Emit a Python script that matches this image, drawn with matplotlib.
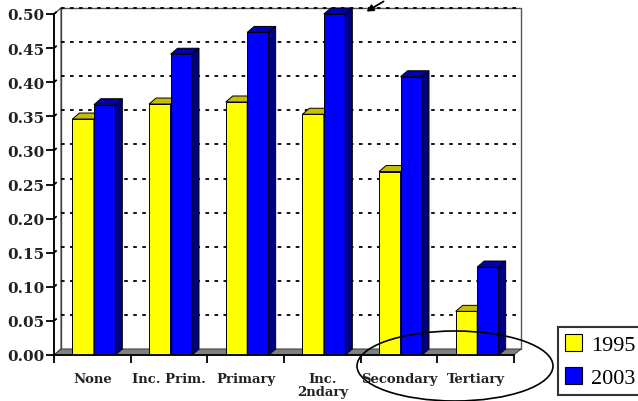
import matplotlib.pyplot as plt
from matplotlib.patches import Polygon, Rectangle, Ellipse, Patch
import numpy as np

categories = ['None', 'Inc. Prim.', 'Primary', 'Inc.\n2ndary', 'Secondary', 'Tertiary']
years = ['1995', '2003']
values_1995 = [0.346, 0.368, 0.371, 0.353, 0.269, 0.064]
values_2003 = [0.367, 0.441, 0.473, 0.500, 0.408, 0.129]
y_ticks = [0.00, 0.05, 0.10, 0.15, 0.20, 0.25, 0.30, 0.35, 0.40, 0.45, 0.50]

W, H = 638, 402
fig = plt.figure(figsize=(W / 100, H / 100), dpi=100)
ax = fig.add_axes([54 / W, 46 / H, 460 / W, 341 / H])
ax.set_xlim(-0.5, 5.5)
ax.set_ylim(0, 0.5)

# depth offset of the fake 3d, in data units (7 px right, 6 px up)
dx = 7 / 460 * 6
dy = 6 / 341 * 0.5
n = len(categories)
x = np.arange(n)
bw = 0.28

# back wall, left wall and floor
ax.add_patch(Rectangle((-0.5 + dx, dy), n, 0.5, facecolor='white', edgecolor='#555555',
                       lw=1, clip_on=False, zorder=0))
ax.add_patch(Polygon([(-0.5, 0), (-0.5 + dx, dy), (-0.5 + dx, 0.5 + dy), (-0.5, 0.5)],
                     closed=True, facecolor='white', edgecolor='#333333', lw=0.8,
                     clip_on=False, zorder=0.5))
for v in y_ticks[1:]:
    ax.plot([-0.5 + dx, 5.5 + dx], [v + dy, v + dy], color='black', ls=(0, (2, 3)),
            lw=1.3, clip_on=False, zorder=1)
    ax.plot([-0.5, -0.5 + dx], [v, v + dy], color='black', ls=(0, (2, 3)),
            lw=1.3, clip_on=False, zorder=1)
ax.add_patch(Polygon([(-0.5, 0), (5.5, 0), (5.5 + dx, dy), (-0.5 + dx, dy)],
                     closed=True, facecolor='#808080', edgecolor='#333333', lw=0.6,
                     clip_on=False, zorder=1.5))


def bar3d(xc, h, front, side, top, z):
    x0, x1 = xc - bw / 2, xc + bw / 2
    ax.bar(xc, h, bw, color=front, edgecolor='black', lw=0.7, zorder=z)
    ax.add_patch(Polygon([(x1, 0), (x1 + dx, dy), (x1 + dx, h + dy), (x1, h)], closed=True,
                         facecolor=side, edgecolor='black', lw=0.7, clip_on=False, zorder=z))
    ax.add_patch(Polygon([(x0, h), (x1, h), (x1 + dx, h + dy), (x0 + dx, h + dy)], closed=True,
                         facecolor=top, edgecolor='black', lw=0.7, clip_on=False, zorder=z))


for i in range(n):
    bar3d(x[i] - bw / 2 + 0.02, values_1995[i], '#FFFF00', '#A09A00', '#C8BE00', 2 + i)
    bar3d(x[i] + bw / 2 + 0.02, values_2003[i], '#0000FF', '#000080', '#0000B0', 2.5 + i)

for s in ['top', 'right']:
    ax.spines[s].set_visible(False)
ax.spines['left'].set_linewidth(1.3)
ax.spines['bottom'].set_linewidth(1.3)
ax.spines['left'].set_zorder(20)
ax.spines['bottom'].set_zorder(20)

ax.set_yticks(y_ticks)
ax.set_yticklabels([f'{v:.2f}' for v in y_ticks], family='DejaVu Serif',
                   fontsize=11, fontweight='bold', color='#222222')
ax.tick_params(axis='y', length=6, width=1.3, pad=1)

ax.set_xticks(x)
ax.set_xticklabels(categories, family='DejaVu Serif', fontsize=9.5,
                   fontweight='bold', color='#222222', linespacing=1.05, va='top')
ax.set_xticks(np.arange(-0.5, n, 1.0), minor=True)
ax.tick_params(axis='x', which='major', length=0, pad=12)
ax.tick_params(axis='x', which='minor', length=6, width=1.3)

# legend box
handles = [Patch(facecolor='#FFFF00', edgecolor='black', lw=0.8),
           Patch(facecolor='#0000FF', edgecolor='black', lw=0.8)]
leg = fig.legend(handles, years, loc='upper left',
                 bbox_to_anchor=(558 / W, 1 - 328 / H), frameon=True, fancybox=False,
                 prop={'family': 'Liberation Serif', 'size': 16}, handlelength=0.8,
                 handleheight=0.8, handletextpad=0.4, borderpad=0.3, labelspacing=0.55,
                 borderaxespad=0)
leg.get_frame().set_edgecolor('black')
leg.get_frame().set_linewidth(1.5)

# ellipse around secondary / tertiary
fig.add_artist(Ellipse((455 / W, 1 - 367 / H), 196 / W, 70 / H, transform=fig.transFigure,
                       facecolor='none', edgecolor='black', lw=1.2))

# small arrow at the top
ax.annotate('', xy=(364, H - 14), xycoords='figure pixels', xytext=(386, H - 1),
            textcoords='figure pixels',
            arrowprops=dict(arrowstyle='-|>', color='black', lw=1.3, mutation_scale=10),
            annotation_clip=False)

fig.savefig('out.png', dpi=100)
